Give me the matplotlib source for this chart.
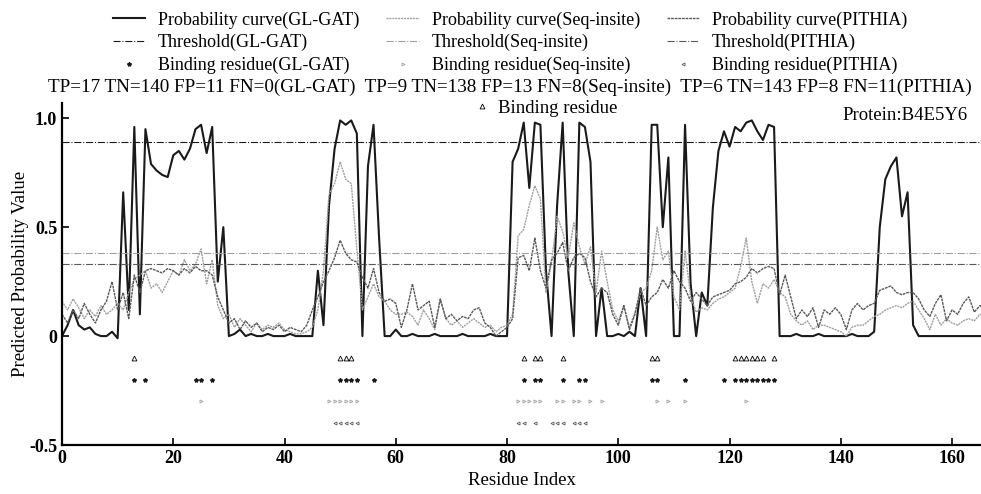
import matplotlib
matplotlib.use('Agg')
import matplotlib.pyplot as plt
import numpy as np

plt.rcParams['font.family'] = ['Liberation Serif', 'DejaVu Serif']

# residue index 0..167
residues = np.arange(168)

# predicted probabilities
prob_glgat = [
    0.00, 0.05, 0.12, 0.05, 0.03, 0.04, 0.01, 0.00, 0.00, 0.02,
    -0.01, 0.66, 0.12, 0.96, 0.10, 0.95, 0.79, 0.76, 0.74, 0.73,
    0.83, 0.85, 0.81, 0.86, 0.95, 0.97, 0.84, 0.96, 0.25, 0.50,
    0.00, 0.01, 0.03, 0.00, 0.01, 0.00, 0.00, 0.01, 0.00, 0.00,
    0.00, 0.01, 0.00, 0.00, 0.00, 0.00, 0.30, 0.05, 0.60, 0.86,
    0.99, 0.97, 0.99, 0.93, 0.00, 0.78, 0.97, 0.45, 0.00, 0.00,
    0.03, 0.00, 0.00, 0.01, 0.00, 0.00, 0.00, 0.01, 0.00, 0.00,
    0.00, 0.00, 0.01, 0.00, 0.00, 0.00, 0.00, 0.01, 0.00, 0.00,
    0.00, 0.80, 0.86, 0.98, 0.68, 0.98, 0.97, 0.30, 0.00, 0.60,
    0.98, 0.30, 0.00, 0.98, 0.96, 0.80, 0.00, 0.22, 0.00, 0.00,
    0.01, 0.00, 0.02, 0.00, 0.22, 0.00, 0.97, 0.97, 0.50, 0.82,
    0.00, 0.00, 0.97, 0.24, 0.00, 0.20, 0.14, 0.59, 0.85, 0.94,
    0.87, 0.96, 0.94, 0.98, 0.99, 0.94, 0.90, 0.97, 0.96, 0.00,
    0.00, 0.00, 0.01, 0.00, 0.00, 0.00, 0.01, 0.00, 0.00, 0.00,
    0.00, 0.00, 0.01, 0.00, 0.00, 0.00, 0.02, 0.50, 0.72, 0.78,
    0.82, 0.55, 0.66, 0.05, 0.00, 0.00, 0.00, 0.00, 0.00, 0.00,
    0.00, 0.00, 0.00, 0.00, 0.00, 0.00, 0.00, 0.00,
]
prob_seqinsite = [
    0.16, 0.12, 0.17, 0.13, 0.08, 0.12, 0.09, 0.14, 0.10, 0.12,
    0.15, 0.12, 0.20, 0.26, 0.28, 0.30, 0.22, 0.24, 0.20, 0.25,
    0.30, 0.28, 0.35, 0.30, 0.33, 0.40, 0.24, 0.35, 0.14, 0.08,
    0.10, 0.04, 0.08, 0.05, 0.02, 0.06, 0.03, 0.05, 0.04, 0.06,
    0.03, 0.02, 0.01, 0.01, 0.02, 0.04, 0.12, 0.30, 0.65, 0.70,
    0.80, 0.72, 0.70, 0.40, 0.12, 0.18, 0.24, 0.18, 0.16, 0.12,
    0.10, 0.10, 0.11, 0.09, 0.05, 0.12, 0.08, 0.03, 0.17, 0.08,
    0.05, 0.07, 0.04, 0.06, 0.08, 0.06, 0.04, 0.05, 0.02, 0.04,
    0.05, 0.10, 0.46, 0.49, 0.60, 0.69, 0.63, 0.20, 0.34, 0.55,
    0.48, 0.36, 0.52, 0.41, 0.33, 0.41, 0.20, 0.39, 0.25, 0.12,
    0.07, 0.14, 0.04, 0.11, 0.20, 0.22, 0.30, 0.50, 0.35, 0.39,
    0.18, 0.12, 0.39, 0.18, 0.11, 0.13, 0.12, 0.15, 0.17, 0.18,
    0.20, 0.22, 0.32, 0.45, 0.25, 0.15, 0.24, 0.22, 0.26, 0.20,
    0.18, 0.10, 0.07, 0.05, 0.07, 0.03, 0.05, 0.05, 0.04, 0.03,
    0.02, 0.00, 0.04, 0.05, 0.05, 0.07, 0.09, 0.10, 0.12, 0.13,
    0.14, 0.13, 0.15, 0.16, 0.12, 0.08, 0.03, 0.10, 0.05, 0.08,
    0.06, 0.05, 0.07, 0.08, 0.07, 0.10, 0.09, 0.11,
]
prob_pithia = [
    0.10, 0.06, 0.12, 0.08, 0.15, 0.10, 0.06, 0.12, 0.16, 0.25,
    0.12, 0.20, 0.08, 0.28, 0.20, 0.30, 0.31, 0.30, 0.29, 0.31,
    0.30, 0.28, 0.31, 0.29, 0.32, 0.30, 0.30, 0.28, 0.18, 0.12,
    0.06, 0.08, 0.03, 0.07, 0.04, 0.06, 0.02, 0.04, 0.03, 0.05,
    0.02, 0.04, 0.03, 0.02, 0.05, 0.12, 0.18, 0.25, 0.30, 0.36,
    0.44, 0.38, 0.35, 0.34, 0.27, 0.22, 0.31, 0.20, 0.16, 0.17,
    0.15, 0.04, 0.12, 0.24, 0.12, 0.14, 0.16, 0.04, 0.17, 0.08,
    0.10, 0.07, 0.09, 0.08, 0.12, 0.13, 0.06, 0.04, 0.00, 0.02,
    0.04, 0.08, 0.36, 0.37, 0.30, 0.45, 0.30, 0.22, 0.35, 0.38,
    0.43, 0.30, 0.36, 0.38, 0.36, 0.25, 0.18, 0.22, 0.20, 0.10,
    0.05, 0.14, 0.03, 0.10, 0.22, 0.14, 0.18, 0.20, 0.26, 0.22,
    0.30, 0.25, 0.22, 0.16, 0.20, 0.17, 0.14, 0.18, 0.19, 0.20,
    0.21, 0.24, 0.25, 0.27, 0.31, 0.29, 0.31, 0.32, 0.31, 0.19,
    0.28, 0.18, 0.08, 0.12, 0.09, 0.13, 0.04, 0.12, 0.10, 0.13,
    0.10, 0.03, 0.12, 0.15, 0.12, 0.14, 0.15, 0.21, 0.22, 0.23,
    0.20, 0.19, 0.20, 0.20, 0.17, 0.12, 0.09, 0.15, 0.19, 0.07,
    0.12, 0.10, 0.15, 0.18, 0.11, 0.14, 0.12, 0.10,
]

# thresholds
thr_glgat = 0.89
thr_seqinsite = 0.38
thr_pithia = 0.33

# binding residues (true and predicted)
true_sites = [13, 50, 51, 52, 83, 85, 86, 90, 106, 107,
              121, 122, 123, 124, 125, 126, 128]
pred_glgat = [13, 15, 24, 25, 27, 50, 51, 52, 53, 56, 83, 85, 86, 90,
              93, 94, 106, 107, 112, 119, 121, 122, 123, 124, 125, 126, 127, 128]
pred_seqinsite = [25, 48, 49, 50, 51, 52, 53, 82, 83, 84, 85, 86, 89, 90,
                  92, 93, 95, 97, 107, 109, 112, 123]
pred_pithia = [49, 50, 51, 52, 53, 82, 83, 85, 88, 89, 90, 92, 93, 94]

conf_text = ('TP=17 TN=140 FP=11 FN=0(GL-GAT)  TP=9 TN=138 FP=13 FN=8(Seq-insite)  '
             'TP=6 TN=143 FP=8 FN=11(PITHIA)')
protein = 'B4E5Y6'

c_gl = '#1a1a1a'
c_seq = '#a0a0a0'
c_pi = '#5a5a5a'

fig = plt.figure(figsize=(9.81, 4.94), dpi=100)
ax = fig.add_axes([62/981, 1-445/494, 1-62/981, (445-103)/494])

l1, = ax.plot(residues, prob_glgat, color=c_gl, lw=1.5, label='Probability curve(GL-GAT)')
l2, = ax.plot(residues, prob_seqinsite, color=c_seq, lw=1.0, linestyle=(0, (1.5, 0.6)),
              label='Probability curve(Seq-insite)')
l3, = ax.plot(residues, prob_pithia, color=c_pi, lw=1.0, linestyle=(0, (2, 0.6)),
              label='Probability curve(PITHIA)')

t1 = ax.axhline(thr_glgat, color=c_gl, lw=0.8, linestyle='-.', label='Threshold(GL-GAT)')
t2 = ax.axhline(thr_seqinsite, color=c_seq, lw=0.8, linestyle='-.', label='Threshold(Seq-insite)')
t3 = ax.axhline(thr_pithia, color=c_pi, lw=0.8, linestyle='-.', label='Threshold(PITHIA)')

tb, = ax.plot(true_sites, [-0.1]*len(true_sites), linestyle='none', marker='^', ms=3.5,
              mfc='none', mec='black', mew=0.6, label='Binding residue')
b1, = ax.plot(pred_glgat, [-0.2]*len(pred_glgat), linestyle='none', marker='*', ms=3,
              color=c_gl, label='Binding residue(GL-GAT)')
b2, = ax.plot(pred_seqinsite, [-0.3]*len(pred_seqinsite), linestyle='none', marker='>', ms=2.2,
              mfc='none', mec=c_seq, mew=0.6, label='Binding residue(Seq-insite)')
b3, = ax.plot(pred_pithia, [-0.4]*len(pred_pithia), linestyle='none', marker='<', ms=2.2,
              mfc='none', mec=c_pi, mew=0.6, label='Binding residue(PITHIA)')

ax.set_xlim(0, 165.2)
ax.set_ylim(-0.5, 1.07)
ax.set_xticks(range(0, 161, 20))
ax.set_yticks([-0.5, 0, 0.5, 1.0])
ax.set_yticklabels(['-0.5', '0', '0.5', '1.0'])
ax.tick_params(direction='in', length=5, width=1.2, labelsize=13)
for lab in ax.get_xticklabels() + ax.get_yticklabels():
    lab.set_fontweight('bold')
ax.spines['top'].set_visible(False)
ax.spines['right'].set_visible(False)
ax.spines['left'].set_linewidth(1.6)
ax.spines['bottom'].set_linewidth(1.6)
ax.set_xlabel('Residue Index', fontsize=13.5, labelpad=4)
ax.set_ylabel('Predicted Probability Value', fontsize=13.5, labelpad=0)

# top legend, one column per method
fig.legend(handles=[l1, t1, b1, l2, t2, b2, l3, t3, b3], ncol=3, loc='upper center',
           bbox_to_anchor=(0.52, 1.01), frameon=False, fontsize=13, handlelength=1.8,
           labelspacing=0.3, columnspacing=1.5, handletextpad=0.7)

fig.text(0.52, 1-87/494, conf_text, ha='center', va='center', fontsize=13.8)

fig.legend(handles=[tb], loc='center', bbox_to_anchor=(545/981, 1-108/494), frameon=False,
           fontsize=13.5, handlelength=1.0, handletextpad=0.4)
fig.text(968/981, 1-115/494, 'Protein:' + protein, ha='right', va='center', fontsize=13.5)

fig.savefig('out.png', dpi=100)
